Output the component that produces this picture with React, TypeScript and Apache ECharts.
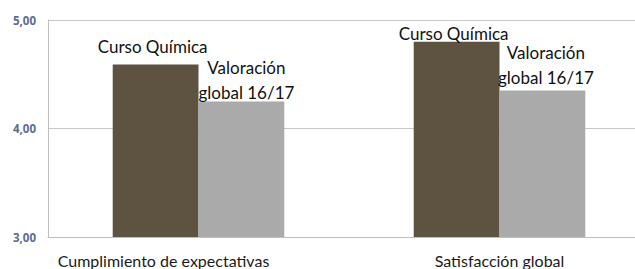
import React, { useEffect, useRef } from "react";
import * as echarts from "echarts";

const categories = ["Cumplimiento de expectativas", "Satisfacción global"];
const cursoQuimica = [4.59, 4.8];
const valoracionGlobal = [4.25, 4.35];
const seriesNames = ["Curso Química", "Valoración\nglobal 16/17"];

export default function App() {
  const ref = useRef<HTMLDivElement>(null);
  useEffect(() => {
    if (!ref.current) return;
    const chart = echarts.init(ref.current, null, { renderer: "svg" });
    const font = "Lato, 'Open Sans', sans-serif";
    chart.setOption({
      animation: false,
      backgroundColor: "#ffffff",
      grid: { left: 48, right: 0, top: 20, bottom: 32, containLabel: false },
      xAxis: {
        type: "category",
        data: categories,
        axisLine: { show: true, lineStyle: { color: "#bfbfbf", width: 1 } },
        axisTick: { show: false },
        axisLabel: {
          interval: 0,
          hideOverlap: false,
          margin: 15,
          fontFamily: font,
          fontSize: 16,
          color: "#1a1a1a",
          formatter: (v: string, i: number) => (i === 0 ? `{a|${v}}` : `{b|${v}}`),
          rich: {
            a: { fontFamily: font, fontSize: 16, color: "#1a1a1a", padding: [0, 70, 0, 0] },
            b: { fontFamily: font, fontSize: 16, color: "#1a1a1a" },
          },
        },
      },
      yAxis: {
        type: "value",
        min: 3,
        max: 5,
        interval: 1,
        axisLine: { show: true, lineStyle: { color: "#bfbfbf", width: 1 } },
        axisTick: { show: false },
        splitLine: { show: true, lineStyle: { color: "#c8c8c8", width: 1 } },
        axisLabel: {
          margin: 12,
          fontFamily: "'Open Sans', sans-serif",
          fontWeight: "bold",
          fontSize: 11.5,
          color: "#5a6c90",
          formatter: (v: number) => v.toFixed(2).replace(".", ","),
        },
      },
      series: [
        {
          name: seriesNames[0],
          type: "bar",
          data: cursoQuimica.map((v, i) => ({
            value: v,
            label: { distance: i === 0 ? 9.5 : -0.5 },
          })),
          barGap: "0%",
          barCategoryGap: "43%",
          itemStyle: { color: "#5d5340" },
          label: {
            show: true,
            position: "top",
            offset: [-3, 0],
            formatter: seriesNames[0],
            fontFamily: font,
            fontSize: 17,
            lineHeight: 17,
            color: "#111111",
          },
        },
        {
          name: seriesNames[1],
          type: "bar",
          data: valoracionGlobal.map((v, i) => ({
            value: v,
            label: { distance: i === 0 ? -3.5 : 0.5, offset: [i === 0 ? 5 : 3.5, 0] },
          })),
          itemStyle: { color: "#aaaaaa" },
          label: {
            show: true,
            position: "top",
            formatter: seriesNames[1],
            fontFamily: font,
            fontSize: 17,
            lineHeight: 25,
            color: "#111111",
          },
        },
      ],
    });
    return () => chart.dispose();
  }, []);
  return (
    <div style={{ position: "fixed", left: 0, top: 0, width: 635, height: 269, overflow: "hidden", background: "#fff" }}>
      <div ref={ref} style={{ width: 650, height: 269 }} />
    </div>
  );
}
